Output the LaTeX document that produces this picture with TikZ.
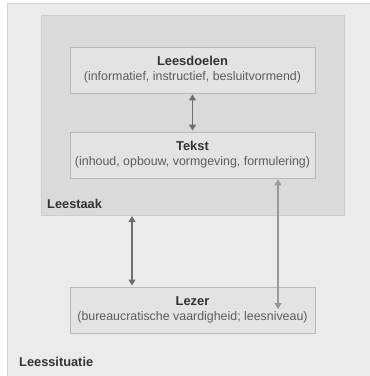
\documentclass[tikz,border=0pt]{standalone}
\usepackage{fontspec}
\setmainfont{Liberation Sans}
\usetikzlibrary{arrows.meta}
\definecolor{outerfill}{HTML}{EBEBEC}
\definecolor{outerline}{HTML}{D2D2D3}
\definecolor{taakfill}{HTML}{DADADB}
\definecolor{taakline}{HTML}{CDCDCE}
\definecolor{boxfill}{HTML}{E3E3E4}
\definecolor{boxline}{HTML}{B9B9BA}
\definecolor{txt}{HTML}{333333}
\definecolor{arr}{HTML}{6E6E6E}
\tikzset{
  x=1pt, y=-1pt,
  infobox/.style={draw=boxline, fill=boxfill, line width=0.9pt, minimum width=245pt, minimum height=46pt, inner sep=0pt, align=center, text=txt},
  lbl/.style={font=\fontsize{12.8}{14}\selectfont\bfseries, text=txt, anchor=west, inner sep=0pt},
  conn/.style={draw=arr, line width=1.1pt, shorten <=1pt, shorten >=1pt, {Triangle[length=6pt,width=7pt]}-{Triangle[length=6pt,width=7pt]}},
}
\newcommand{\ttl}[1]{{\fontsize{12.9}{15}\selectfont\bfseries #1}}
\newcommand{\sub}[1]{{\fontsize{12.4}{15}\selectfont\color{txt!80} #1}}
\begin{document}
\begin{tikzpicture}
\useasboundingbox (0,0) rectangle (370,376);
\fill[white] (0,0) rectangle (370,376);
\path[fill=outerfill] (7,3) rectangle (371,377);
\draw[outerline, line width=0.9pt] (7,377) -- (7,3) -- (371,3);
\path[draw=taakline, fill=taakfill, line width=0.9pt] (41,15) rectangle (344,215);
\node[infobox] (doelen) at (192.5,70) {\ttl{Leesdoelen}\\[3pt]\sub{(informatief, instructief, besluitvormend)}};
\node[infobox] (tekst) at (192.5,155) {\ttl{Tekst}\\[3pt]\sub{(inhoud, opbouw, vormgeving, formulering)}};
\node[infobox] (lezer) at (192.5,310) {\ttl{Lezer}\\[3pt]\sub{(bureaucratische vaardigheid; leesniveau)}};
\node[lbl] (taak) at (47,204) {Leestaak};
\node[lbl] (situatie) at (19,362) {Leessituatie};
\coordinate (taakbot) at (132,215);
\coordinate (lezertip) at (278,310);
\draw[conn] (doelen.south) -- (tekst.north);
\draw[conn] (taakbot) -- (taakbot |- lezer.north);
\draw[conn, draw=arr!70] (tekst.south -| lezertip) -- (lezertip);
\end{tikzpicture}
\end{document}
